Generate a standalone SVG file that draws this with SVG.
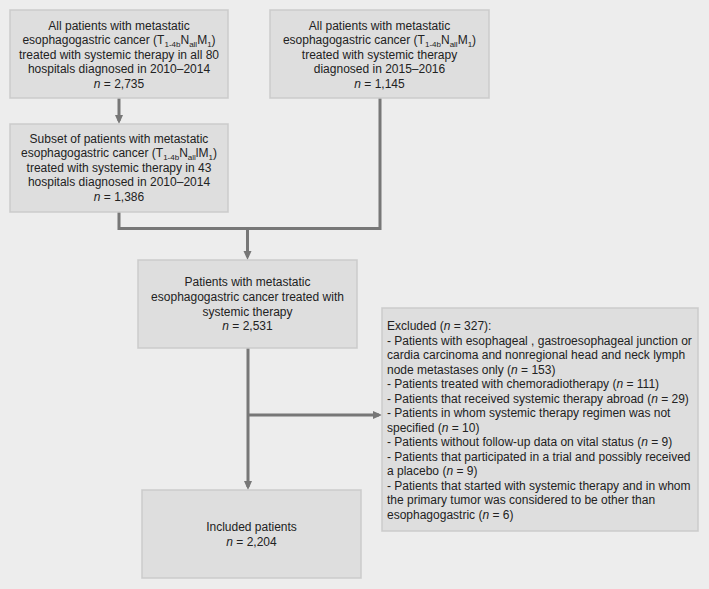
<svg xmlns="http://www.w3.org/2000/svg" width="709" height="589" viewBox="0 0 709 589">
<style>
.bg{fill:#ededed}
.box{fill:#dedede;stroke:#cbcbcb;stroke-width:1.5}
.t{font-family:"Liberation Sans",Arial,Helvetica,sans-serif;font-size:12px;fill:#222}
.c{text-anchor:middle}
.i{font-style:italic}
.s{font-size:8px}
.ln{stroke:#777;stroke-width:3;fill:none}
</style>
<defs>
<marker id="ah" markerUnits="userSpaceOnUse" markerWidth="10" markerHeight="10" viewBox="0 0 10 10" refX="6" refY="5" orient="auto">
<path d="M0,1 L9,5 L0,9 z" fill="#777"/>
</marker>
</defs>
<rect class="bg" x="0" y="0" width="709" height="589"/>

<g id="connectors">
<path class="ln" d="M119,98 V121" marker-end="url(#ah)"/>
<path class="ln" d="M119,212 V228.5 H380 V98"/>
<path class="ln" d="M247.5,228.5 V257" marker-end="url(#ah)"/>
<path class="ln" d="M248,348 V487" marker-end="url(#ah)"/>
<path class="ln" d="M248,415 H379" marker-end="url(#ah)"/>
</g>

<g id="node-all-2010-2014">
<rect class="box" x="10" y="10" width="218" height="88"/>
<text class="t c" x="119" y="29.5">All patients with metastatic</text>
<text class="t c" x="119" y="44">esophagogastric cancer (T<tspan class="s" dy="3">1-4b</tspan><tspan dy="-3">N</tspan><tspan class="s" dy="3">all</tspan><tspan dy="-3">M</tspan><tspan class="s" dy="3">1</tspan><tspan dy="-3">)</tspan></text>
<text class="t c" x="119" y="58.5">treated with systemic therapy in all 80</text>
<text class="t c" x="119" y="73">hospitals diagnosed in 2010–2014</text>
<text class="t c" x="119" y="87.5"><tspan class="i">n</tspan> = 2,735</text>
</g>

<g id="node-2015-2016">
<rect class="box" x="270" y="10" width="219" height="88"/>
<text class="t c" x="379.5" y="29.5">All patients with metastatic</text>
<text class="t c" x="379.5" y="44">esophagogastric cancer (T<tspan class="s" dy="3">1-4b</tspan><tspan dy="-3">N</tspan><tspan class="s" dy="3">all</tspan><tspan dy="-3">M</tspan><tspan class="s" dy="3">1</tspan><tspan dy="-3">)</tspan></text>
<text class="t c" x="379.5" y="58.5">treated with systemic therapy</text>
<text class="t c" x="379.5" y="73">diagnosed in 2015–2016</text>
<text class="t c" x="379.5" y="87.5"><tspan class="i">n</tspan> = 1,145</text>
</g>

<g id="node-subset-43">
<rect class="box" x="10" y="124" width="218" height="88"/>
<text class="t c" x="119" y="142.5">Subset of patients with metastatic</text>
<text class="t c" x="119" y="157">esophagogastric cancer (T<tspan class="s" dy="3">1-4b</tspan><tspan dy="-3">N</tspan><tspan class="s" dy="3">all</tspan><tspan dy="-3">lM</tspan><tspan class="s" dy="3">1</tspan><tspan dy="-3">)</tspan></text>
<text class="t c" x="119" y="171.5">treated with systemic therapy in 43</text>
<text class="t c" x="119" y="186">hospitals diagnosed in 2010–2014</text>
<text class="t c" x="119" y="200.5"><tspan class="i">n</tspan> = 1,386</text>
</g>

<g id="node-combined">
<rect class="box" x="138" y="260" width="219" height="88"/>
<text class="t c" x="247.5" y="286">Patients with metastatic</text>
<text class="t c" x="247.5" y="301">esophagogastric cancer treated with</text>
<text class="t c" x="247.5" y="316">systemic therapy</text>
<text class="t c" x="247.5" y="330"><tspan class="i">n</tspan> = 2,531</text>
</g>

<g id="node-included">
<rect class="box" x="142" y="490" width="219" height="88"/>
<text class="t c" x="251.5" y="531">Included patients</text>
<text class="t c" x="251.5" y="546"><tspan class="i">n</tspan> = 2,204</text>
</g>

<g id="node-excluded">
<rect class="box" x="382" y="308" width="316" height="223"/>
<text class="t" x="387" y="330">Excluded (<tspan class="i">n</tspan> = 327):</text>
<text class="t" x="387" y="344.5">- Patients with esophageal , gastroesophageal junction or</text>
<text class="t" x="387" y="359">cardia carcinoma and nonregional head and neck lymph</text>
<text class="t" x="387" y="373.5">node metastases only (<tspan class="i">n</tspan> = 153)</text>
<text class="t" x="387" y="388">- Patients treated with chemoradiotherapy (<tspan class="i">n</tspan> = 111)</text>
<text class="t" x="387" y="402.5">- Patients that received systemic therapy abroad (<tspan class="i">n</tspan> = 29)</text>
<text class="t" x="387" y="417">- Patients in whom systemic therapy regimen was not</text>
<text class="t" x="387" y="431.5">specified (<tspan class="i">n</tspan> = 10)</text>
<text class="t" x="387" y="446">- Patients without follow-up data on vital status (<tspan class="i">n</tspan> = 9)</text>
<text class="t" x="387" y="460.5">- Patients that participated in a trial and possibly received</text>
<text class="t" x="387" y="475">a placebo (<tspan class="i">n</tspan> = 9)</text>
<text class="t" x="387" y="489.5">- Patients that started with systemic therapy and in whom</text>
<text class="t" x="387" y="504">the primary tumor was considered to be other than</text>
<text class="t" x="387" y="518.5">esophagogastric (<tspan class="i">n</tspan> = 6)</text>
</g>
</svg>
